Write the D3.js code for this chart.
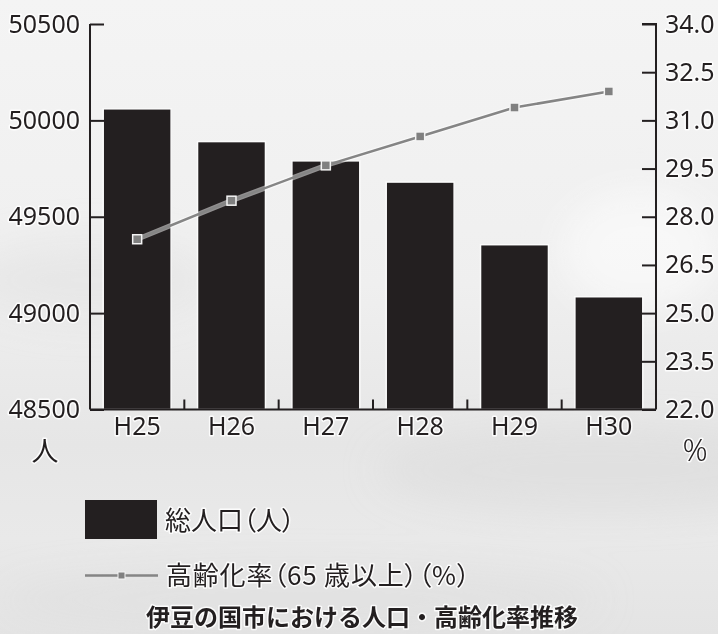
<!DOCTYPE html>
<html><head><meta charset="utf-8">
<script src="https://cdn.jsdelivr.net/npm/d3@7"></script>
<style>
html,body{margin:0;padding:0;background:#f1f1f1;}
svg{display:block;}
text{font-family:"Noto Sans","Noto Sans CJK JP",sans-serif;fill:#231f20;}
.cjk{font-family:"Noto Sans CJK JP","Noto Sans",sans-serif;font-feature-settings:"palt";}
.cjkw{font-family:"Noto Sans CJK JP","Noto Sans",sans-serif;}
.halo{paint-order:stroke;stroke:#ffffff;stroke-width:3px;stroke-opacity:0.85;stroke-linejoin:round;}
</style>
</head><body>
<script>
const categories = ["H25","H26","H27","H28","H29","H30"];
const population = [50060, 49890, 49790, 49680, 49355, 49085];
const agingRate = [27.3, 28.5, 29.6, 30.5, 31.4, 31.9];
const leftTicks = [48500, 49000, 49500, 50000, 50500];
const rightTicks = [22.0, 23.5, 25.0, 26.5, 28.0, 29.5, 31.0, 32.5, 34.0];
const legendLabels = ["総人口（人）", "高齢化率（65 歳以上）（%）"];
const title = "伊豆の国市における人口・高齢化率推移";
const leftUnit = "人", rightUnit = "%";

const W = 718, H = 634;
const svg = d3.select("body").append("svg").attr("width", W).attr("height", H);

// background
const defs = svg.append("defs");
const g1 = defs.append("linearGradient").attr("id","bg").attr("x1",0).attr("y1",0).attr("x2",0).attr("y2",1);
[[0,"#f4f4f4"],[0.45,"#efefef"],[0.7,"#e6e6e6"],[0.85,"#e9e9e9"],[1,"#e4e4e4"]].forEach(s=>g1.append("stop").attr("offset",s[0]).attr("stop-color",s[1]));
svg.append("rect").attr("width",W).attr("height",H).attr("fill","url(#bg)");
const blur = defs.append("filter").attr("id","blur").attr("x","-50%").attr("y","-50%").attr("width","200%").attr("height","200%");
blur.append("feGaussianBlur").attr("stdDeviation",18);
const cloud = svg.append("g").attr("filter","url(#blur)");
cloud.append("ellipse").attr("cx",90).attr("cy",280).attr("rx",120).attr("ry",40).attr("fill","#e2e2e2").attr("opacity",0.6);
cloud.append("ellipse").attr("cx",600).attr("cy",470).attr("rx",220).attr("ry",40).attr("fill","#dcdcdc").attr("opacity",0.6);
cloud.append("ellipse").attr("cx",300).attr("cy",600).attr("rx",300).attr("ry",30).attr("fill","#dedede").attr("opacity",0.5);
cloud.append("ellipse").attr("cx",640).attr("cy",250).attr("rx",80).attr("ry",60).attr("fill","#fbfbfb").attr("opacity",0.7);

const x0 = 90, x1 = 656, yTop = 24, yBot = 409.5;
const x = d3.scaleBand().domain(categories).range([x0, x1]).paddingInner(0.28).paddingOuter(0.14);
const yL = d3.scaleLinear().domain([48500, 50500]).range([yBot, yTop]);
const yR = d3.scaleLinear().domain([22, 34]).range([yBot, yTop]);

// bars
svg.append("g").selectAll("rect").data(categories).join("rect")
  .attr("x", d => x(d)).attr("width", x.bandwidth())
  .attr("y", (d,i) => yL(population[i])).attr("height", (d,i) => yBot - yL(population[i]))
  .attr("fill", "#231f20").attr("stroke","#fbfbfb").attr("stroke-width",1.5);

// axes
const axL = svg.append("g").attr("transform", `translate(${x0},0)`)
  .call(d3.axisLeft(yL).tickValues(leftTicks).tickSize(-14).tickPadding(10).tickFormat(d3.format("d")));
const axR = svg.append("g").attr("transform", `translate(${x1},0)`)
  .call(d3.axisRight(yR).tickValues(rightTicks).tickSize(-14).tickPadding(9).tickFormat(d3.format(".1f")));
const axB = svg.append("g").attr("transform", `translate(0,${yBot})`)
  .call(d3.axisBottom(x).tickSize(0).tickPadding(8));
[axL, axR, axB].forEach(a => {
  a.select(".domain").attr("stroke","#231f20").attr("stroke-width",2);
  a.selectAll(".tick line").attr("stroke","#231f20").attr("stroke-width",2);
  a.selectAll("text").attr("font-size",25).attr("font-family","Noto Sans").attr("fill","#231f20").classed("halo",true);
});
axL.select(".domain").attr("d", `M0,${yTop}H0V${yBot}`);
axR.select(".domain").attr("d", `M-14,${yTop}H0V${yBot}`);
axB.select(".domain").attr("d", `M${x0},0H${x1}`);
// category boundary ticks
svg.append("g").selectAll("line").data(categories.slice(1)).join("line")
  .attr("x1", d => x(d) - x.step()*x.paddingInner()/2).attr("x2", d => x(d) - x.step()*x.paddingInner()/2)
  .attr("y1", yBot - 10).attr("y2", yBot).attr("stroke","#231f20").attr("stroke-width",2);

// line
const cx = d => x(d) + x.bandwidth()/2;
const line = d3.line().x((d,i) => cx(categories[i])).y(d => yR(d));
svg.append("path").datum(agingRate).attr("d", line).attr("fill","none")
  .attr("stroke","#ffffff").attr("stroke-width",5).attr("stroke-opacity",0.5);
svg.append("path").datum(agingRate).attr("d", line).attr("fill","none")
  .attr("stroke","#858585").attr("stroke-width",2.5);
svg.append("g").selectAll("rect").data(agingRate).join("rect")
  .attr("x", (d,i) => cx(categories[i]) - 4.5).attr("y", d => yR(d) - 4.5)
  .attr("width", 9).attr("height", 9).attr("fill","#808080").attr("stroke","#f4f4f4").attr("stroke-width",1.5);

// units
svg.append("text").attr("class","cjkw halo").attr("x",45).attr("y",461).attr("text-anchor","middle").attr("font-size",27).text(leftUnit);
svg.append("text").attr("class","halo").attr("x",695).attr("y",461).attr("text-anchor","middle").attr("font-size",31).attr("font-weight",300).text(rightUnit);

// legend
svg.append("rect").attr("x",85).attr("y",500).attr("width",72).attr("height",39).attr("fill","#231f20");
svg.append("text").attr("class","cjk halo").attr("x",165).attr("y",530).attr("font-size",26).text(legendLabels[0]);
svg.append("line").attr("x1",85).attr("x2",158).attr("y1",575.5).attr("y2",575.5).attr("stroke","#858585").attr("stroke-width",2.5);
svg.append("rect").attr("x",118).attr("y",572).attr("width",7).attr("height",7).attr("fill","#808080").attr("stroke","#f4f4f4").attr("stroke-width",1);
svg.append("text").attr("class","cjk halo").attr("x",166).attr("y",585).attr("font-size",26).attr("letter-spacing",0.8).text(legendLabels[1]);

// title
svg.append("text").attr("class","cjkw halo").attr("x",362).attr("y",626).attr("text-anchor","middle")
  .attr("font-size",24).attr("font-weight",700).text(title);
</script>
</body></html>
